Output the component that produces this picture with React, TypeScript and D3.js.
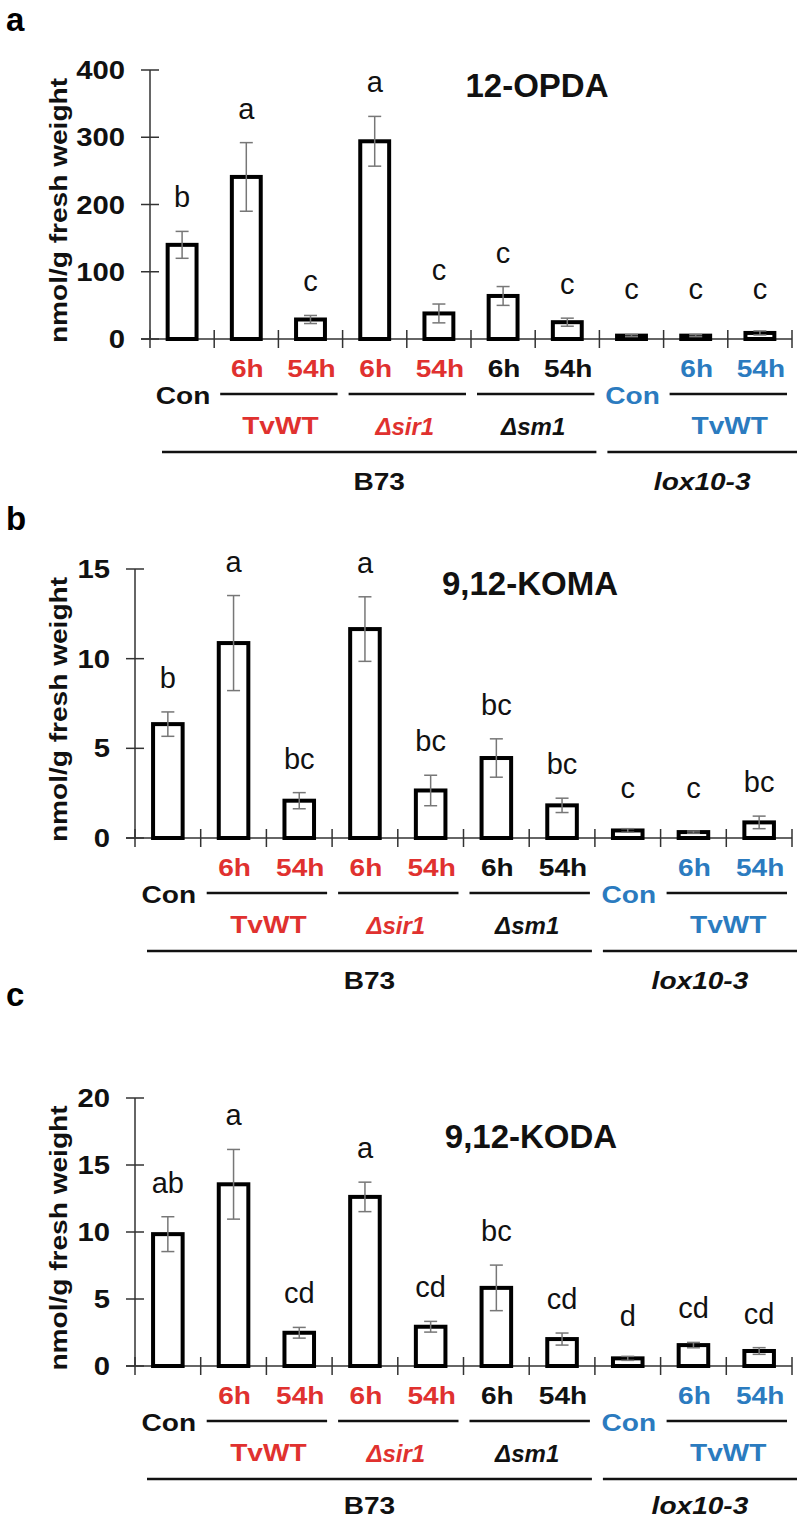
import React from "react";
import * as d3 from "d3";

const timeLabels = ["", "6h", "54h", "6h", "54h", "6h", "54h", "", "6h", "54h"];
const conIndices = [0, 7];
const treatmentNames = ["TvWT", "Δsir1", "Δsm1", "TvWT"];
const treatmentStart = [1, 3, 5, 8];
const treatmentEnd = [2, 4, 6, 9];
const genotypeNames = ["B73", "lox10-3"];
const genotypeStart = [0, 7];
const genotypeEnd = [6, 9];

const opdaMeans = [140, 241, 29, 294, 38, 64, 25, 5, 5, 9];
const opdaErrors = [20, 51, 6, 37, 14, 14, 6, 1.5, 1.5, 3];
const opdaLetters = ["b", "a", "c", "a", "c", "c", "c", "c", "c", "c"];
const opdaTicks = [0, 100, 200, 300, 400];

const komaMeans = [6.35, 10.87, 2.08, 11.65, 2.65, 4.46, 1.82, 0.42, 0.33, 0.87];
const komaErrors = [0.68, 2.65, 0.45, 1.8, 0.85, 1.07, 0.4, 0.1, 0.06, 0.35];
const komaLetters = ["b", "a", "bc", "a", "bc", "bc", "bc", "c", "c", "bc"];
const komaTicks = [0, 5, 10, 15];

const kodaMeans = [9.84, 13.56, 2.48, 12.62, 2.93, 5.83, 2.01, 0.57, 1.56, 1.12];
const kodaErrors = [1.3, 2.6, 0.4, 1.1, 0.4, 1.7, 0.45, 0.15, 0.2, 0.25];
const kodaLetters = ["ab", "a", "cd", "a", "cd", "bc", "cd", "d", "cd", "cd"];
const kodaTicks = [0, 5, 10, 15, 20];

const RED = "#E0312F";
const BLUE = "#2B7BBF";
const BLACK = "#111";
const FONT = "'Liberation Sans', Arial, sans-serif";
const SX = 1.17;

function colorFor(i: number) {
  if (i >= 1 && i <= 4) return RED;
  if (i >= 7) return BLUE;
  return BLACK;
}
const treatmentColors = [RED, RED, BLACK, BLUE];

type PanelProps = {
  letter: string;
  title: string;
  titleX: number;
  titleY: number;
  x0: number;
  x1: number;
  y0: number;
  yTop: number;
  means: number[];
  errors: number[];
  letters: string[];
  ticks: number[];
  letterY: number;
};

function WText(props: any) {
  const { x, y, sx = SX, children, ...rest } = props;
  return (
    <text transform={`translate(${x},${y}) scale(${sx},1)`} {...rest}>
      {children}
    </text>
  );
}

function Panel(p: PanelProps) {
  const idx = d3.range(p.means.length);
  const x = d3.scaleBand<number>().domain(idx).range([p.x0, p.x1]).padding(0);
  const bw = x.bandwidth();
  const y = d3
    .scaleLinear()
    .domain([0, p.ticks[p.ticks.length - 1]])
    .range([p.y0, p.yTop]);
  const cx = (i: number) => (x(i) as number) + bw / 2;
  const barW = bw * 0.45;
  const yMid = (p.y0 + p.yTop) / 2;
  const genoY = Math.min(p.y0 + 151, 1514);

  return (
    <g>
      <text x={6} y={p.letterY} fontFamily={FONT} fontWeight="bold" fontSize={33} fill="#000">
        {p.letter}
      </text>
      {/* y label */}
      <text
        fontFamily={FONT}
        fontWeight="bold"
        fontSize={24}
        textAnchor="middle"
        fill={BLACK}
        transform={`translate(67,${yMid + 6}) rotate(-90) scale(${SX},1)`}
      >
        nmol/g fresh weight
      </text>
      {/* y axis */}
      <line x1={p.x0} x2={p.x0} y1={p.yTop} y2={p.y0} stroke="#333" strokeWidth={1.5} />
      {p.ticks.map((t) => (
        <g key={t}>
          <line x1={p.x0 - 9} x2={p.x0 + 9} y1={y(t)} y2={y(t)} stroke="#333" strokeWidth={1.5} />
          <WText
            x={p.x0 - 25}
            y={y(t) + 9}
            fontFamily={FONT}
            fontWeight="bold"
            fontSize={25}
            textAnchor="end"
            fill={BLACK}
          >
            {t}
          </WText>
        </g>
      ))}
      {/* x axis */}
      <line x1={p.x0 - 9} x2={p.x1} y1={p.y0} y2={p.y0} stroke="#333" strokeWidth={1.5} />
      {d3.range(p.means.length + 1).map((i) => {
        const xx = i < p.means.length ? (x(i) as number) : p.x1;
        return <line key={i} x1={xx} x2={xx} y1={p.y0 - 9} y2={p.y0 + 9} stroke="#333" strokeWidth={1.5} />;
      })}
      {/* bars */}
      {idx.map((i) => {
        const top = y(p.means[i]);
        const h = p.y0 - top;
        const eTop = y(p.means[i] + p.errors[i]);
        const eBot = y(Math.max(0, p.means[i] - p.errors[i]));
        const lblY = Math.min(eTop - 24, p.y0 - 40);
        return (
          <g key={i}>
            <rect
              x={cx(i) - barW / 2}
              y={top}
              width={barW}
              height={Math.max(h, 1)}
              fill="#fff"
              stroke="#000"
              strokeWidth={4}
            />
            <line x1={cx(i)} x2={cx(i)} y1={eTop} y2={eBot} stroke="#777" strokeWidth={1.5} />
            <line x1={cx(i) - 6.5} x2={cx(i) + 6.5} y1={eTop} y2={eTop} stroke="#777" strokeWidth={1.5} />
            <line x1={cx(i) - 6.5} x2={cx(i) + 6.5} y1={eBot} y2={eBot} stroke="#777" strokeWidth={1.5} />
            <text x={cx(i)} y={lblY} textAnchor="middle" fontFamily={FONT} fontSize={29} fill={BLACK}>
              {p.letters[i]}
            </text>
          </g>
        );
      })}
      {/* title */}
      <text
        x={p.titleX}
        y={p.titleY}
        textAnchor="middle"
        fontFamily={FONT}
        fontWeight="bold"
        fontSize={33}
        fill={BLACK}
      >
        {p.title}
      </text>
      {/* time labels */}
      {idx.map((i) =>
        timeLabels[i] ? (
          <WText
            key={"t" + i}
            x={cx(i) + 1}
            y={p.y0 + 38}
            textAnchor="middle"
            fontFamily={FONT}
            fontWeight="bold"
            fontSize={24}
            fill={colorFor(i)}
          >
            {timeLabels[i]}
          </WText>
        ) : null
      )}
      {conIndices.map((i) => (
        <WText
          key={"c" + i}
          x={cx(i) + 1}
          y={p.y0 + 65}
          textAnchor="middle"
          fontFamily={FONT}
          fontWeight="bold"
          fontSize={24}
          fill={colorFor(i)}
        >
          Con
        </WText>
      ))}
      {treatmentNames.map((name, k) => {
        const xa = (x(treatmentStart[k]) as number) + 6;
        const xb = (x(treatmentEnd[k]) as number) + bw - 5;
        const mid = ((x(treatmentStart[k]) as number) + (x(treatmentEnd[k]) as number) + bw) / 2;
        const italic = name.startsWith("Δ");
        return (
          <g key={"tr" + k}>
            <line x1={xa} x2={xb} y1={p.y0 + 55} y2={p.y0 + 55} stroke="#111" strokeWidth={2.5} />
            {italic ? (
              <text
                x={mid - 2}
                y={p.y0 + 96}
                textAnchor="middle"
                fontFamily={FONT}
                fontWeight="bold"
                fontStyle="italic"
                fontSize={24}
                fill={treatmentColors[k]}
              >
                {name}
              </text>
            ) : (
              <WText
                x={mid + 2}
                y={p.y0 + 95}
                textAnchor="middle"
                fontFamily={FONT}
                fontWeight="bold"
                fontSize={24}
                fill={treatmentColors[k]}
              >
                {name}
              </WText>
            )}
          </g>
        );
      })}
      {genotypeNames.map((name, k) => {
        const xa = (x(genotypeStart[k]) as number) + (k === 0 ? 12 : 8);
        const xb = (x(genotypeEnd[k]) as number) + bw + (k === 0 ? -3 : 5);
        const mid = (xa + xb) / 2;
        return (
          <g key={"g" + k}>
            <line x1={xa} x2={xb} y1={p.y0 + 113} y2={p.y0 + 113} stroke="#111" strokeWidth={2.5} />
            <WText
              x={mid}
              y={genoY}
              textAnchor="middle"
              fontFamily={FONT}
              fontWeight="bold"
              fontStyle={k === 1 ? "italic" : "normal"}
              fontSize={24}
              fill={BLACK}
            >
              {name}
            </WText>
          </g>
        );
      })}
    </g>
  );
}

export default function App() {
  return (
    <svg
      width={800}
      height={1521}
      style={{ position: "absolute", left: 0, top: 0, background: "#fff" }}
    >
      <rect width={800} height={1521} fill="#fff" />
      <Panel
        letter="a"
        title="12-OPDA"
        titleX={537}
        titleY={97}
        x0={150}
        x1={792}
        y0={339}
        yTop={70}
        means={opdaMeans}
        errors={opdaErrors}
        letters={opdaLetters}
        ticks={opdaTicks}
        letterY={31}
      />
      <Panel
        letter="b"
        title="9,12-KOMA"
        titleX={530}
        titleY={595}
        x0={135}
        x1={792}
        y0={838}
        yTop={569}
        means={komaMeans}
        errors={komaErrors}
        letters={komaLetters}
        ticks={komaTicks}
        letterY={530}
      />
      <Panel
        letter="c"
        title="9,12-KODA"
        titleX={531}
        titleY={1148}
        x0={135}
        x1={792}
        y0={1366}
        yTop={1098}
        means={kodaMeans}
        errors={kodaErrors}
        letters={kodaLetters}
        ticks={kodaTicks}
        letterY={1006}
      />
    </svg>
  );
}
